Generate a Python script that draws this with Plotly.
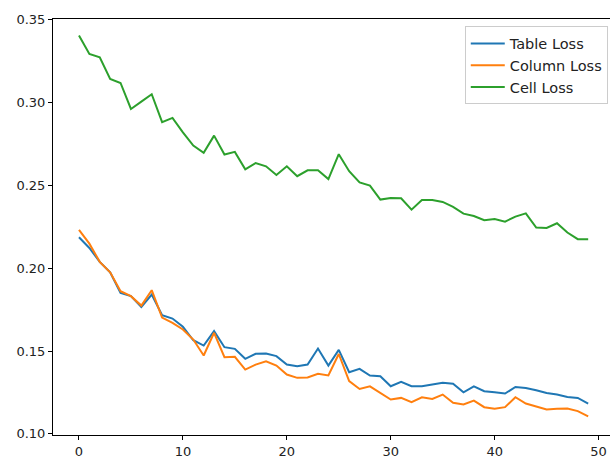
import plotly.graph_objects as go

epochs = list(range(50))
table_loss = [0.2187, 0.2122, 0.2038, 0.1975, 0.1851, 0.1831, 0.1766, 0.1841, 0.1716, 0.1696,
              0.1646, 0.1565, 0.1533, 0.1620, 0.1523, 0.1513, 0.1453, 0.1483, 0.1485, 0.1469,
              0.1418, 0.1408, 0.1418, 0.1515, 0.1412, 0.1507, 0.1372, 0.1392, 0.1352, 0.1348,
              0.1287, 0.1314, 0.1287, 0.1287, 0.1298, 0.1308, 0.1302, 0.1251, 0.1287, 0.1257,
              0.1251, 0.1243, 0.1283, 0.1277, 0.1263, 0.1247, 0.1237, 0.1223, 0.1217, 0.1183]
column_loss = [0.2231, 0.2148, 0.2038, 0.1975, 0.1861, 0.1831, 0.1774, 0.1867, 0.1702, 0.1670,
               0.1630, 0.1569, 0.1473, 0.1610, 0.1463, 0.1465, 0.1388, 0.1418, 0.1438, 0.1412,
               0.1358, 0.1338, 0.1340, 0.1362, 0.1352, 0.1482, 0.1318, 0.1271, 0.1287, 0.1247,
               0.1207, 0.1217, 0.1191, 0.1221, 0.1211, 0.1237, 0.1187, 0.1177, 0.1201, 0.1161,
               0.1151, 0.1161, 0.1221, 0.1183, 0.1163, 0.1147, 0.1151, 0.1153, 0.1137, 0.1106]
cell_loss = [0.3405, 0.3293, 0.3273, 0.3142, 0.3118, 0.2961, 0.3005, 0.3050, 0.2881, 0.2907,
             0.2820, 0.2740, 0.2696, 0.2800, 0.2686, 0.2702, 0.2597, 0.2635, 0.2615, 0.2563,
             0.2615, 0.2555, 0.2591, 0.2591, 0.2538, 0.2688, 0.2585, 0.2518, 0.2498, 0.2414,
             0.2424, 0.2422, 0.2353, 0.2412, 0.2412, 0.2400, 0.2370, 0.2329, 0.2315, 0.2289,
             0.2297, 0.2281, 0.2311, 0.2331, 0.2245, 0.2243, 0.2271, 0.2215, 0.2175, 0.2175]

series = [("Table Loss", table_loss, "#1f77b4"),
          ("Column Loss", column_loss, "#ff7f0e"),
          ("Cell Loss", cell_loss, "#2ca02c")]

fig = go.Figure()
for name, vals, color in series:
    fig.add_trace(go.Scatter(x=epochs, y=vals, mode="lines", name=name, legendgroup=name,
                             line=dict(color=color, width=2)))

font = dict(family="DejaVu Sans", size=13, color="#222222")
fig.update_layout(
    width=610, height=461,
    margin=dict(l=53, r=0, t=19, b=26),
    paper_bgcolor="white", plot_bgcolor="white",
    font=font,
    showlegend=True,
    legend=dict(x=0.996, y=0.982, xanchor="right", yanchor="top",
                bgcolor="rgba(255,255,255,0.8)", bordercolor="#cccccc", borderwidth=1,
                tracegroupgap=0, itemwidth=34,
                font=dict(family="DejaVu Sans", size=14.5, color="#222222")),
    xaxis=dict(range=[-2.5, 51.1], tickvals=[0, 10, 20, 30, 40, 50],
               showgrid=False, zeroline=False, showline=True, linecolor="black",
               linewidth=1, mirror=True, ticks="outside", ticklen=4, tickcolor="black",
               tickfont=font),
    yaxis=dict(range=[0.0993, 0.3504], tickvals=[0.10, 0.15, 0.20, 0.25, 0.30, 0.35],
               tickformat=".2f",
               showgrid=False, zeroline=False, showline=True, linecolor="black",
               linewidth=1, mirror=True, ticks="outside", ticklen=4, tickcolor="black",
               tickfont=font),
)

fig.write_html("out.html")
